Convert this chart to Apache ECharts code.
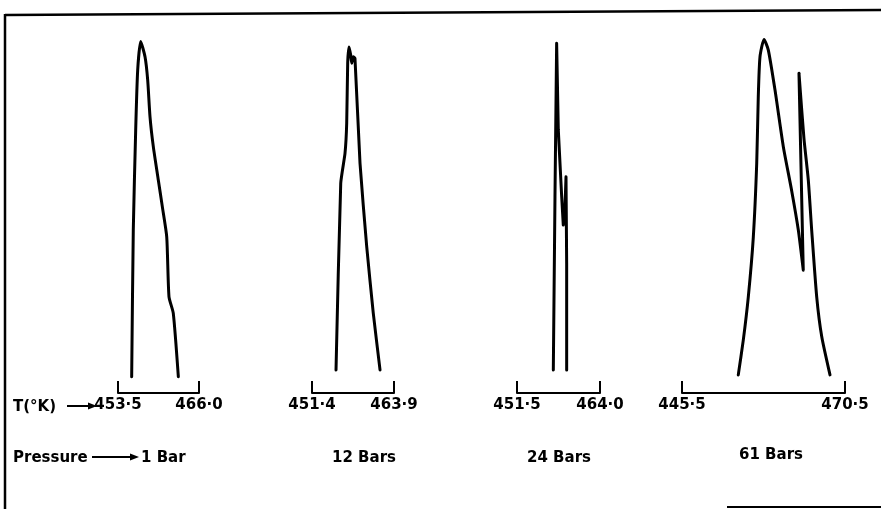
<!DOCTYPE html>
<html><head><meta charset="utf-8">
<script src="https://cdn.jsdelivr.net/npm/echarts@6/dist/echarts.min.js"></script>
<style>html,body{margin:0;padding:0;background:#fff}#c{width:881px;height:509px}</style>
</head><body><div id="c"></div>
<script>
// Temperature range of each panel (bracket ends) and tick labels
const ranges = [[453.5, 466.0], [451.4, 463.9], [451.5, 464.0], [445.5, 470.5]];
const tickLabels = [['453·5', '466·0'], ['451·4', '463·9'], ['451·5', '464·0'], ['445·5', '470·5']];
const pressures = ['1 Bar', '12 Bars', '24 Bars', '61 Bars'];

// Traced curves: temperature (K) and relative signal height
const p1T = [455.61, 455.86, 456.23, 456.54, 457.00, 457.67, 458.08, 458.44, 458.95, 459.72, 460.34, 461.02, 461.37, 462.03, 462.81];
const p1H = [4.6, 45.9, 74.1, 91.0, 99.0, 94.7, 88.2, 77.8, 69.4, 60.0, 52.5, 44.0, 27.1, 22.5, 4.6];

const p2T = [455.06, 455.78, 456.43, 456.69, 456.84, 457.04, 457.30, 457.45, 457.70, 457.95, 458.72, 459.74, 460.74, 461.77];
const p2H = [6.5, 59.1, 67.5, 76.0, 92.9, 97.5, 95.2, 92.9, 94.7, 94.3, 64.7, 41.2, 22.5, 6.5];

const p3T = [456.97, 457.22, 457.47, 457.72, 458.23, 458.47, 458.73, 458.88, 458.98, 458.98];
const p3H = [6.5, 55.3, 98.5, 74.1, 55.3, 47.3, 52.5, 60.9, 36.5, 6.5];

const p4T = [454.13, 454.90, 455.67, 456.44, 456.96, 457.20, 457.46, 458.08, 458.74, 459.76, 461.04, 462.32, 463.34, 464.10, 463.44, 464.20, 464.87, 465.39, 466.16, 466.93, 468.20];
const p4H = [5.1, 14.9, 27.1, 44.0, 64.7, 83.5, 94.7, 99.6, 96.6, 85.4, 69.4, 57.0, 45.9, 34.6, 90.1, 71.8, 60.0, 45.9, 27.1, 15.9, 5.1];

const curvesT = [p1T, p2T, p3T, p4T];
const curvesH = [p1H, p2H, p3H, p4H];
const smoothing = [0.2, 0.15, 0, 0.2];

// layout (pixels)
const gridLeft = [118, 312, 517, 682];
const gridWidth = [81, 82, 83, 163];
const FONT = 'DejaVu Sans';

const grids = [], xAxes = [], yAxes = [], series = [];
for (let i = 0; i < 4; i++) {
  grids.push({left: gridLeft[i], width: gridWidth[i], top: 38, height: 355});
  const r = ranges[i], tl = tickLabels[i];
  xAxes.push({
    type: 'value', gridIndex: i, min: r[0], max: r[1],
    splitLine: {show: false},
    axisLine: {show: true, lineStyle: {color: '#000', width: 2}},
    axisTick: {show: true, inside: true, length: 12, customValues: r, lineStyle: {color: '#000', width: 2}},
    axisLabel: {show: true, customValues: r, margin: 5, color: '#000', fontSize: 15, fontWeight: 'bold', fontFamily: FONT,
      formatter: v => (Math.abs(v - r[0]) < 1e-6 ? tl[0] : tl[1])}
  });
  yAxes.push({type: 'value', gridIndex: i, min: 0, max: 100, show: false});
  series.push({
    type: 'line', xAxisIndex: i, yAxisIndex: i, showSymbol: false, silent: true,
    smooth: smoothing[i], smoothMonotone: 'none',
    lineStyle: {color: '#000', width: 3, join: 'round', cap: 'round'},
    data: curvesT[i].map((t, k) => [t, curvesH[i][k]])
  });
}

function arrow(x1, x2, y) {
  return [
    {type: 'line', shape: {x1: x1, y1: y, x2: x2 - 6, y2: y}, style: {stroke: '#000', lineWidth: 2}},
    {type: 'polygon', shape: {points: [[x2 - 9, y - 3.5], [x2, y], [x2 - 9, y + 3.5]]}, style: {fill: '#000'}}
  ];
}
const txt = (x, y, t, align) => ({type: 'text', x: x, y: y,
  style: {text: t, fill: '#000', font: 'bold 15px "' + FONT + '"', align: align || 'left', verticalAlign: 'middle'}});

const graphic = [
  {type: 'line', shape: {x1: 5, y1: 15, x2: 881, y2: 10}, style: {stroke: '#000', lineWidth: 2.5}},
  {type: 'line', shape: {x1: 5, y1: 14, x2: 5, y2: 509}, style: {stroke: '#000', lineWidth: 2.5}},
  {type: 'line', shape: {x1: 727, y1: 507, x2: 881, y2: 507}, style: {stroke: '#000', lineWidth: 2}},
  txt(13, 407, 'T(°K)'),
  ...arrow(67, 97, 406),
  txt(13, 458, 'Pressure'),
  ...arrow(92, 139, 457),
  txt(141, 458, pressures[0]),
  txt(364, 458, pressures[1], 'center'),
  txt(559, 458, pressures[2], 'center'),
  txt(771, 455, pressures[3], 'center')
];

const chart = echarts.init(document.getElementById('c'), null, {renderer: 'canvas'});
chart.setOption({
  animation: false, backgroundColor: '#fff',
  grid: grids, xAxis: xAxes, yAxis: yAxes, series: series, graphic: graphic
});
</script></body></html>
